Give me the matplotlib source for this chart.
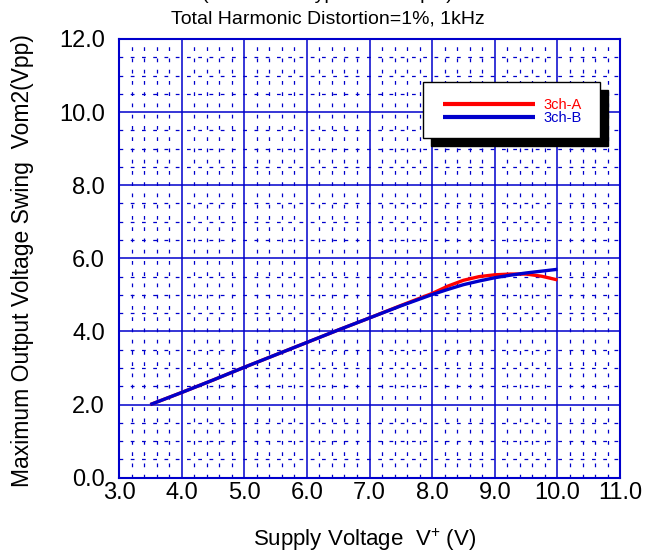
import numpy as np
import matplotlib
matplotlib.use("Agg")
from matplotlib import pyplot as plt
from matplotlib.patches import Rectangle

plt.rcParams['font.family'] = ['Liberation Sans', 'DejaVu Sans']
plt.rcParams['mathtext.fontset'] = 'custom'
plt.rcParams['mathtext.rm'] = 'Liberation Sans'

# supply voltage (V) and output swing (Vpp)
v_a = [3.5, 4.0, 4.5, 5.0, 5.5, 6.0, 6.5, 7.0, 7.5, 8.0, 8.25, 8.5, 8.75, 9.0, 9.25, 9.5, 9.75, 10.0]
swing_a = [2.0, 2.33, 2.67, 3.02, 3.36, 3.70, 4.04, 4.37, 4.71, 5.04, 5.24, 5.40, 5.50, 5.55, 5.57, 5.57, 5.51, 5.41]
v_b = [3.5, 4.0, 4.5, 5.0, 5.5, 6.0, 6.5, 7.0, 7.5, 8.0, 8.25, 8.5, 8.75, 9.0, 9.25, 9.5, 9.75, 10.0]
swing_b = [2.0, 2.33, 2.67, 3.02, 3.36, 3.70, 4.04, 4.37, 4.70, 5.01, 5.15, 5.28, 5.38, 5.47, 5.54, 5.60, 5.65, 5.70]
labels = ['3ch-A', '3ch-B']

grid_blue = '#0000CC'

fig = plt.figure(figsize=(6.55, 5.57), dpi=100)
ax = fig.add_axes([0.1817, 0.1424, 0.765, 0.7876])

ax.set_xlim(3.0, 11.0)
ax.set_ylim(0.0, 12.0)
xt = np.arange(3.0, 11.01, 1.0)
yt = np.arange(0.0, 12.01, 2.0)
ax.set_xticks(xt)
ax.set_yticks(yt)
ax.set_xticks(np.arange(3.0, 11.01, 0.2), minor=True)
ax.set_yticks(np.arange(0.0, 12.01, 0.5), minor=True)
ax.set_xticklabels(['%.1f' % t for t in xt], fontsize=17)
ax.set_yticklabels(['%.1f' % t for t in yt], fontsize=17)
ax.tick_params(which='both', length=0)
ax.tick_params(axis='x', pad=3)
ax.tick_params(axis='y', pad=10)

ax.grid(which='major', color=grid_blue, lw=1.1, ls='-')
ax.grid(which='minor', color=grid_blue, lw=0.9, ls=(0, (3, 6)))
for s in ax.spines.values():
    s.set_color(grid_blue)
    s.set_linewidth(1.5)

ax.plot(v_a, swing_a, color='#FF0000', lw=2.4, label=labels[0], solid_capstyle='butt')
ax.plot(v_b, swing_b, color='#0000CC', lw=2.4, label=labels[1], solid_capstyle='butt')

# legend box with black drop shadow
bx, by, bw, bh = 0.607, 0.774, 0.353, 0.128
ax.add_patch(Rectangle((bx + 0.015, by - 0.018), bw, bh, transform=ax.transAxes,
                       facecolor='black', edgecolor='black', zorder=5))
ax.add_patch(Rectangle((bx, by), bw, bh, transform=ax.transAxes,
                       facecolor='white', edgecolor='black', lw=1.0, zorder=6))
leg = ax.legend(loc='center', bbox_to_anchor=(0.785, 0.835), frameon=False,
                fontsize=10.5, handlelength=6.3, handletextpad=0.6, labelspacing=-0.05,
                labelcolor=['#FF0000', '#0000CC'])
for ln in leg.get_lines():
    ln.set_linewidth(3.0)
leg.set_zorder(7)

ax.set_xlabel(r'Supply Voltage  V$^{+}$ (V)', fontsize=16)
ax.xaxis.set_label_coords(0.49, -0.112)
ax.set_ylabel('Maximum Output Voltage Swing  Vom2(Vpp)', fontsize=16.5)
ax.yaxis.set_label_coords(-0.17, 0.495)

fig.text(0.5, 0.966, 'Total Harmonic Distortion=1%, 1kHz', ha='center', va='center', fontsize=14)
fig.text(0.5, 0.994, '(Reference Typical Example)', ha='center', va='bottom', fontsize=14)

fig.savefig('out.png', dpi=100)
